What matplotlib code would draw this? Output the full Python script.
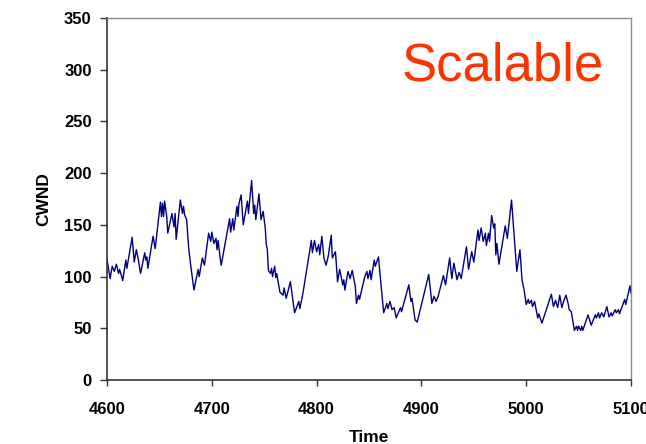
import matplotlib
matplotlib.use("Agg")
import matplotlib.pyplot as plt

# cwnd trace
time = [4600, 4603, 4605, 4607, 4609, 4611, 4612, 4614, 4615, 4618, 4619, 4624, 4626, 4628,
        4630, 4632, 4636, 4637, 4638, 4639, 4644, 4646, 4651, 4652, 4653, 4654, 4655, 4657,
        4658, 4662, 4664, 4665, 4666, 4670, 4672, 4673, 4674, 4676, 4678, 4680, 4683, 4687,
        4688, 4691, 4693, 4697, 4699, 4700, 4702, 4704, 4705, 4706, 4708, 4709, 4717, 4718,
        4720, 4721, 4724, 4725, 4726, 4728, 4730, 4734, 4735, 4738, 4740, 4741, 4742, 4745,
        4747, 4749, 4751, 4752, 4753, 4754, 4756, 4757, 4758, 4760, 4761, 4762, 4765, 4768,
        4769, 4771, 4775, 4779, 4783, 4784, 4787, 4795, 4796, 4798, 4800, 4802, 4803, 4805,
        4807, 4809, 4811, 4814, 4815, 4818, 4820, 4822, 4825, 4826, 4827, 4830, 4832, 4834,
        4837, 4838, 4840, 4841, 4846, 4848, 4849, 4851, 4852, 4855, 4856, 4859, 4864, 4867,
        4868, 4870, 4872, 4874, 4876, 4880, 4881, 4888, 4890, 4891, 4894, 4896, 4907, 4910,
        4912, 4914, 4916, 4921, 4923, 4927, 4929, 4931, 4934, 4936, 4938, 4943, 4945, 4948,
        4950, 4954, 4955, 4957, 4959, 4961, 4962, 4964, 4965, 4967, 4969, 4970, 4971, 4972,
        4974, 4980, 4982, 4986, 4991, 4994, 4996, 4998, 5000, 5002, 5003, 5005, 5006, 5008,
        5011, 5012, 5015, 5024, 5026, 5028, 5030, 5032, 5034, 5036, 5038, 5040, 5041, 5043,
        5046, 5048, 5049, 5050, 5052, 5053, 5054, 5059, 5062, 5066, 5067, 5069, 5070, 5072,
        5074, 5077, 5079, 5081, 5082, 5085, 5086, 5088, 5089, 5094, 5095, 5099, 5100]
cwnd = [117, 98, 110, 105, 112, 103, 107, 100, 96, 116, 108, 138, 114, 126,
        116, 103, 123, 116, 119, 108, 139, 127, 172, 158, 171, 158, 173, 158,
        142, 161, 148, 161, 136, 174, 161, 168, 160, 155, 127, 110, 87, 107,
        100, 118, 111, 142, 134, 143, 132, 137, 126, 135, 118, 111, 156, 143,
        156, 145, 168, 158, 171, 179, 150, 173, 161, 193, 161, 169, 155, 180,
        155, 163, 147, 131, 126, 106, 103, 108, 100, 110, 99, 103, 85, 82,
        89, 79, 95, 65, 76, 69, 84, 135, 123, 135, 124, 131, 121, 139,
        118, 111, 119, 140, 118, 124, 95, 107, 92, 97, 87, 105, 98, 106,
        90, 74, 82, 78, 100, 105, 98, 106, 97, 116, 110, 119, 65, 74,
        69, 76, 68, 70, 60, 70, 66, 92, 76, 79, 58, 56, 102, 74,
        81, 76, 81, 101, 92, 118, 98, 113, 97, 104, 98, 129, 107, 124,
        114, 145, 135, 147, 134, 142, 130, 142, 134, 159, 147, 151, 121, 132,
        112, 149, 137, 174, 105, 126, 97, 87, 73, 78, 74, 77, 71, 76,
        60, 64, 55, 83, 71, 77, 70, 82, 70, 77, 82, 74, 68, 66,
        48, 52, 48, 52, 48, 52, 48, 63, 53, 63, 60, 65, 60, 65,
        61, 71, 61, 65, 62, 68, 65, 68, 64, 78, 73, 91, 84]

xticks = [4600, 4700, 4800, 4900, 5000, 5100]
yticks = [0, 50, 100, 150, 200, 250, 300, 350]

plt.rcParams['font.family'] = ['Liberation Sans', 'DejaVu Sans']

fig = plt.figure(figsize=(6.46, 4.44), dpi=100)
ax = fig.add_axes([0.1656, 0.1441, 0.8112, 0.8154])

ax.plot(time, cwnd, color='#000080', linewidth=1.0)

ax.set_xlim(4600, 5100)
ax.set_ylim(0, 350)
ax.set_xticks(xticks)
ax.set_yticks(yticks)
ax.tick_params(axis='both', direction='out', labelsize=12, width=1, color='#333333')
ax.tick_params(axis='x', length=4, pad=12)
ax.tick_params(axis='y', length=5, pad=6)
for lab in ax.get_xticklabels() + ax.get_yticklabels():
    lab.set_fontweight('bold')

for side in ['top', 'right']:
    ax.spines[side].set_color('#8c8c8c')
    ax.spines[side].set_linewidth(1)
for side in ['left', 'bottom']:
    ax.spines[side].set_color('#333333')
    ax.spines[side].set_linewidth(1.2)

ax.set_xlabel('Time', fontsize=12.5, fontweight='bold', labelpad=9)
ax.set_ylabel('CWND', fontsize=12.5, fontweight='bold', labelpad=9)

fig.text(0.7786, 0.8198, 'Scalable', fontsize=38, color='#ff3300', ha='center', va='baseline')

fig.savefig('out.png', dpi=100)
